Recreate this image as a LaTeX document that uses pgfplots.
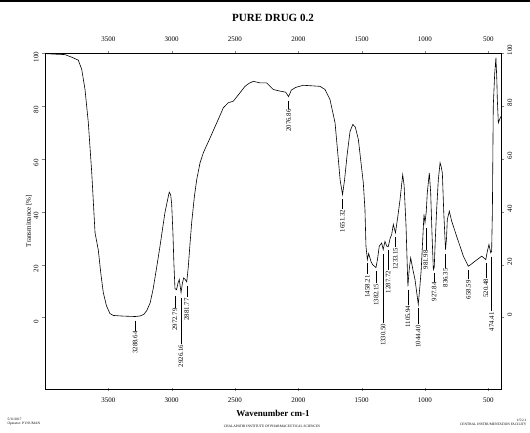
\documentclass[border=0pt]{standalone}
\usepackage{pgfplots}
\pgfplotsset{compat=1.18}
\usepackage{fontspec}
\setmainfont{Liberation Serif}

\pgfplotstableread{
w T
4000 99.8
3940 99.6
3842 99.4
3779 98.2
3737 97.3
3710 93.8
3684 86.2
3658 73.7
3631 54.8
3605 32.1
3579 25.5
3560 17.0
3540 9.5
3515 4.5
3487 1.5
3460 0.8
3400 0.6
3350 0.5
3288 0.4
3250 0.6
3220 1.2
3197 2.6
3170 5.5
3147 10.6
3120 18.5
3092 27.0
3053 39.7
3030 45.0
3019 47.4
3008 46.5
3000 43.0
2990 32.0
2982 20.0
2974 11.0
2962 10.5
2950 13.0
2940 14.4
2926 9.5
2915 13.0
2905 15.0
2895 14.5
2881 13.5
2869 19.0
2855 28.0
2842 35.9
2820 46.0
2802 52.2
2776 58.5
2750 62.3
2697 67.9
2644 73.6
2592 79.3
2553 81.2
2513 81.8
2460 85.0
2421 87.4
2390 88.5
2355 89.3
2303 88.7
2250 88.7
2198 86.2
2145 85.6
2100 85.2
2077 83.5
2055 86.0
2020 87.0
1961 87.8
1829 87.4
1789 86.2
1750 82.4
1710 73.6
1684 59.7
1670 52.0
1651 46.5
1635 52.0
1616 61.0
1592 70.3
1570 73.0
1550 72.0
1526 67.3
1487 50.9
1474 40.8
1466 27.0
1455 21.9
1445 24.2
1425 21.0
1413 20.0
1387 18.9
1375 22.0
1361 27.0
1342 28.2
1330 25.7
1316 28.8
1302 27.0
1290 26.8
1275 30.0
1263 31.4
1250 35.2
1233 32.0
1215 38.0
1197 44.6
1176 54.0
1165 50.0
1150 35.0
1135 11.8
1125 18.0
1113 22.6
1095 18.0
1079 14.4
1053 5.0
1040 12.0
1030 18.0
1018 29.5
1008 39.0
1000 35.8
990 40.0
982 47.1
966 54.7
955 47.1
945 32.0
934 18.1
927 19.0
920 28.0
908 40.8
895 52.0
881 58.5
872 57.0
863 54.7
852 40.0
838 25.7
830 30.0
824 37.0
808 40.2
789 36.4
750 30.7
697 23.2
658 19.4
640 20.0
605 21.3
552 23.2
520 21.9
508 25.0
495 27.6
481 24.5
474 25.0
468 40.0
461 79.9
450 92.0
440 98.2
433 90.0
429 82.4
421 73.6
410 75.0
400 76.0
}\spectrum

\newcommand\pkfont{\fontsize{6.8}{7}\selectfont}
% peak label: position, leader start, leader end, text
\newcommand\pk[4]{%
  \draw[line width=0.4pt] (axis cs:#1,#2) -- (axis cs:#1,#3);
  \node[rotate=90, anchor=east, font=\pkfont, inner sep=0.8pt] at (axis cs:#1,#3) {#4};}

\pgfplotsset{
  specaxis/.style={
    at={(45pt,43pt)}, anchor=south west,
    width=456pt, height=336pt, scale only axis,
    x dir=reverse, xmin=400, xmax=4000, ymin=-27, ymax=100,
    xtick={500,1000,...,3500}, ytick={0,20,...,100},
    ticklabel style={font=\fontsize{7}{8}\selectfont},
    /pgf/number format/set thousands separator={},
    /pgf/number format/assume math mode=true,
    yticklabel style={rotate=90},
    axis line style={line width=0.6pt},
    major tick length=3pt,
    xtick align=center, ytick align=outside,
  },
}

\begin{document}
\begin{tikzpicture}[x=1pt,y=1pt]
\path[use as bounding box] (0,0) rectangle (530,432);
\draw[line width=1.6pt] (0,431) -- (530,431);

\node[font=\fontsize{11}{12}\selectfont\bfseries] at (273,414) {PURE DRUG 0.2};

\begin{axis}[specaxis,
  xticklabel pos=lower, yticklabel pos=left,
  xticklabel style={yshift=-4pt},
  yticklabel style={xshift=-4pt},
  xlabel={\textbf{Wavenumber cm-1}},
  xlabel style={font=\fontsize{9}{10}\selectfont, yshift=-1pt},
  ylabel={Transmittance [\%]},
  ylabel style={font=\fontsize{7}{8}\selectfont, yshift=-5pt},
]
\addplot[black, line width=0.6pt] table[x=w, y=T] {\spectrum};
\pk{3288}{-1.2}{-4.9}{3288.64}
\pk{2974}{8}{3.8}{2972.79}
\pk{2926}{7.5}{-10}{2926.16}
\pk{2881}{12}{7.6}{2881.77}
\pk{2077}{82}{79}{2076.86}
\pk{1651}{45}{41}{1651.32}
\pk{1455}{20.5}{16.3}{1458.21}
\pk{1385}{17.5}{13.2}{1382.15}
\pk{1330}{24}{-2}{1330.50}
\pk{1290}{25.5}{18}{1287.72}
\pk{1233}{30.5}{26.8}{1233.15}
\pk{1135}{10.5}{4.9}{1105.94}
\pk{1053}{3.5}{-2.6}{1044.40}
\pk{994}{34}{25.7}{981.98}
\pk{927}{17}{13.6}{927.84}
\pk{838}{24}{18.9}{836.35}
\pk{658}{18}{14.4}{658.59}
\pk{520}{20.5}{15}{520.48}
\pk{474}{23}{2.3}{474.41}
\end{axis}

\begin{axis}[specaxis,
  xticklabel pos=upper, yticklabel pos=right,
  xticklabel style={yshift=6pt},
  yticklabel style={xshift=3pt},
]
\end{axis}

\node[font=\fontsize{3.5}{4}\selectfont, anchor=west, align=left] at (4,10) {5/31/2017\\Operator: P.V.SUMAN};
\node[font=\fontsize{3.5}{4}\selectfont] at (272,6) {CHALAPATHI INSTITUTE OF PHARMACEUTICAL SCIENCES};
\node[font=\fontsize{3.5}{4}\selectfont, anchor=east, align=right] at (530,10) {1/5/2.1\\CENTRAL INSTRUMENTATION FACILITY};
\end{tikzpicture}
\end{document}
